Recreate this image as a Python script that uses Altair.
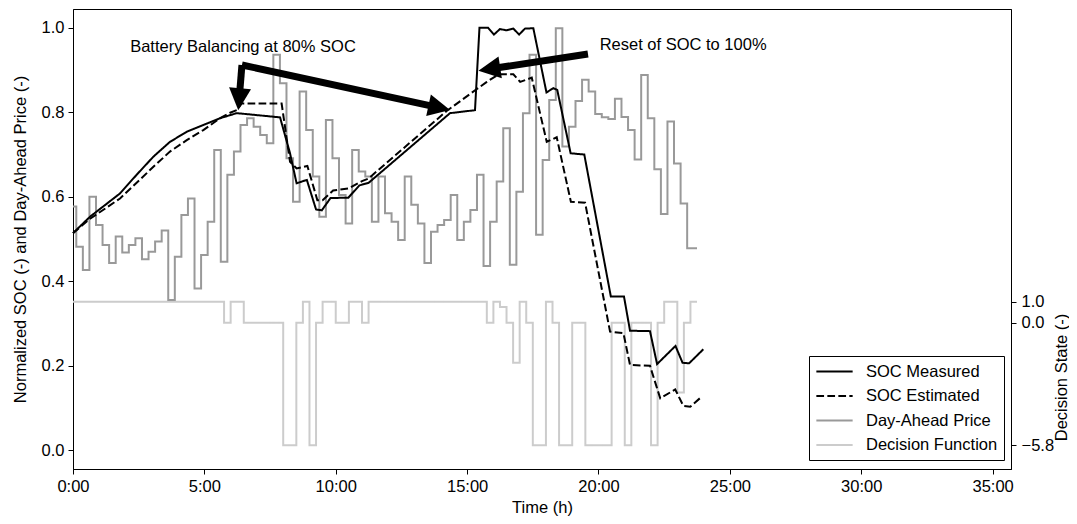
import math
import altair as alt
import pandas as pd

# ---------------- data ----------------
STEP_H = 0.25  # 15-minute resolution

price_values = [
    0.577, 0.482, 0.427, 0.600, 0.533, 0.486, 0.443, 0.506, 0.468, 0.486,
    0.502, 0.452, 0.470, 0.494, 0.520, 0.356, 0.458, 0.557, 0.596, 0.383,
    0.462, 0.541, 0.711, 0.446, 0.652, 0.707, 0.770, 0.786, 0.766, 0.746,
    0.727, 0.936, 0.869, 0.691, 0.588, 0.849, 0.758, 0.648, 0.553, 0.782,
    0.691, 0.604, 0.537, 0.711, 0.660, 0.648, 0.541, 0.648, 0.561, 0.541,
    0.498, 0.648, 0.581, 0.537, 0.443, 0.517, 0.533, 0.545, 0.604, 0.498,
    0.541, 0.569, 0.652, 0.436, 0.541, 0.636, 0.762, 0.439, 0.612, 0.798,
    0.936, 0.510, 0.687, 0.829, 0.999, 0.719, 0.766, 0.827, 0.877, 0.849,
    0.796, 0.788, 0.784, 0.832, 0.789, 0.758, 0.688, 0.888, 0.786, 0.665,
    0.559, 0.778, 0.679, 0.584, 0.478, 0.478,
]

decision_values = (
    [1.0] * 23 + [0.0] + [1.0] * 2 + [0.0] * 6 + [-5.8] * 2 + [0.0] + [1.0]
    + [-5.8] + [0.0] + [1.0] * 2 + [0.0] * 2 + [1.0] * 2 + [0.0] + [1.0] * 18
    + [0.0] + [1.0] + [0.75] + [0.0] + [-1.9] + [1.0] + [0.0] + [-5.8] * 2
    + [1.0] + [0.0] + [-5.8] * 2 + [0.0] * 2 + [-5.8] * 4 + [0.0] * 2 + [-5.8]
    + [0.0] * 3 + [-5.8] + [0.0] + [1.0] * 2 + [-3.3] + [0.0] + [1.0] * 2
)

soc_meas_t = [0, 0.65, 1.79, 2.42, 3.06, 3.69, 4.33, 4.96, 5.6, 6.23, 7.88, 8.26,
              8.51, 8.9, 9.25, 9.47, 9.8, 10.48, 10.9, 11.25, 14.35, 15.3, 15.47,
              15.8, 16.02, 16.25, 16.5, 16.76, 16.98, 17.2, 17.52, 18.02, 18.28,
              18.43, 18.94, 19.46, 20.47, 20.97, 21.2, 21.96, 22.23, 22.93, 23.2,
              23.45, 23.99]
soc_meas_v = [0.514, 0.553, 0.608, 0.652, 0.695, 0.730, 0.754, 0.770, 0.786, 0.798,
              0.788, 0.703, 0.632, 0.640, 0.570, 0.568, 0.597, 0.598, 0.627, 0.633,
              0.798, 0.805, 1.0, 1.0, 0.984, 0.997, 0.994, 0.998, 0.984, 0.998,
              0.999, 0.847, 0.857, 0.853, 0.703, 0.700, 0.364, 0.364, 0.283, 0.282,
              0.204, 0.247, 0.207, 0.206, 0.239]

soc_est_t = [0, 0.65, 1.79, 3.06, 3.69, 4.33, 4.96, 5.6, 5.98, 6.23, 6.42, 7.94,
             8.26, 8.51, 8.92, 9.3, 9.5, 9.9, 10.5, 11.0, 11.24, 14.22, 15.37,
             15.75, 16.2, 16.76, 17.02, 17.46, 18.03, 18.41, 18.95, 19.49, 20.44,
             20.95, 21.2, 21.96, 22.35, 22.92, 23.23, 23.49, 23.93]
soc_est_v = [0.514, 0.548, 0.596, 0.671, 0.707, 0.734, 0.758, 0.786, 0.799, 0.805,
             0.821, 0.821, 0.683, 0.667, 0.673, 0.592, 0.592, 0.615, 0.620, 0.637,
             0.643, 0.803, 0.855, 0.872, 0.890, 0.890, 0.872, 0.882, 0.730, 0.741,
             0.588, 0.586, 0.281, 0.277, 0.202, 0.200, 0.123, 0.144, 0.105, 0.103,
             0.127]

series_names = ["SOC Measured", "SOC Estimated", "Day-Ahead Price", "Decision Function"]
series_colors = ["#000000", "#000000", "#999999", "#cccccc"]
series_dashes = [[1, 0], [7.7, 3.3], [1, 0], [1, 0]]

x_ticks = [0, 5, 10, 15, 20, 25, 30, 35]
y_ticks = [0.0, 0.2, 0.4, 0.6, 0.8, 1.0]
decision_ticks = [1.0, 0.0, -5.8]

ann_texts = ["Battery Balancing at 80% SOC", "Reset of SOC to 100%"]
ann_text_t = [6.47, 23.22]
ann_text_v = [0.9545, 0.959]
arrow_start_t = [6.43, 6.43, 19.60]
arrow_start_v = [0.912, 0.912, 0.938]
arrow_tip_t = [6.29, 14.35, 15.43]
arrow_tip_v = [0.805, 0.8055, 0.8985]

# ---------------- layout ----------------
PLOT_W, PLOT_H = 938, 460
X_DOMAIN = [0, 35.7]
Y_DOMAIN = [-0.0443, 1.0445]
D_DOMAIN = [-6.93, 14.87]
FONT = "Liberation Sans"
FS = 16.5

PX_H = PLOT_W / (X_DOMAIN[1] - X_DOMAIN[0])
PX_V = PLOT_H / (Y_DOMAIN[1] - Y_DOMAIN[0])
HEAD_INSET = 16

# ---------------- tables ----------------
times = [i * STEP_H for i in range(len(price_values))]
price_df = pd.DataFrame({"t": times, "v": price_values, "series": "Day-Ahead Price"})
dec_df = pd.DataFrame({"t": times, "v": decision_values, "series": "Decision Function"})
soc_df = pd.concat([
    pd.DataFrame({"t": soc_meas_t, "v": soc_meas_v, "series": "SOC Measured"}),
    pd.DataFrame({"t": soc_est_t, "v": soc_est_v, "series": "SOC Estimated"}),
], ignore_index=True)
soc_df["ord"] = range(len(soc_df))

shaft_rows, head_rows = [], []
for i, (ts, vs, tt, vt) in enumerate(zip(arrow_start_t, arrow_start_v, arrow_tip_t, arrow_tip_v)):
    dx = (tt - ts) * PX_H
    dy = -(vt - vs) * PX_V
    L = math.hypot(dx, dy)
    ux, uy = dx / L, dy / L
    te = tt - HEAD_INSET * ux / PX_H
    ve = vt + HEAD_INSET * uy / PX_V
    shaft_rows += [{"arrow": i, "ord": 0, "t": ts, "v": vs},
                   {"arrow": i, "ord": 1, "t": te, "v": ve}]
    head_rows.append({"t": tt, "v": vt, "angle": math.degrees(math.atan2(ux, -uy)) % 360})
shaft_df = pd.DataFrame(shaft_rows)
head_df = pd.DataFrame(head_rows)
text_df = pd.DataFrame({"t": ann_text_t, "v": ann_text_v, "label": ann_texts})

# ---------------- encodings ----------------
XSCALE = alt.Scale(domain=X_DOMAIN, nice=False, zero=False)
YSCALE = alt.Scale(domain=Y_DOMAIN, nice=False, zero=False)
DSCALE = alt.Scale(domain=D_DOMAIN, nice=False, zero=False)

XAXIS = alt.Axis(values=x_ticks, labelExpr="datum.value + ':00'", title="Time (h)",
                 labelFlush=False, labelOverlap=False, tickSize=5, labelPadding=4,
                 titleY=38, titleBaseline="middle", grid=False)
YAXIS = alt.Axis(orient="left", values=y_ticks, format=".1f",
                 title="Normalized SOC (-) and Day-Ahead Price (-)",
                 tickSize=5, labelPadding=4, labelOverlap=False, grid=False,
                 titleAngle=270, titleAlign="center", titleBaseline="middle",
                 titleX=-53, titleY=230)
DAXIS = alt.Axis(orient="right", values=decision_ticks, format=".1f",
                 title="Decision State (-)", tickSize=5, labelPadding=5,
                 labelOverlap=False, grid=False, titleAngle=270, titleAlign="center",
                 titleBaseline="middle", titleX=50, titleY=368)

LEG = alt.Legend(title=None, orient="none", legendX=736, legendY=347,
                 fillColor="white", strokeColor="black", padding=6, cornerRadius=0,
                 labelFont=FONT, labelFontSize=FS, labelColor="black",
                 symbolType="M-2.2,0H2.2", symbolSize=272, symbolStrokeWidth=2,
                 symbolOffset=10, rowPadding=6.5, labelOffset=22)

color = alt.Color("series:N", scale=alt.Scale(domain=series_names, range=series_colors), legend=LEG)
dash = alt.StrokeDash("series:N", scale=alt.Scale(domain=series_names, range=series_dashes), legend=LEG)

x_enc = alt.X("t:Q", scale=XSCALE, axis=XAXIS)
y_enc = alt.Y("v:Q", scale=YSCALE, axis=YAXIS)

price = alt.Chart(price_df).mark_line(interpolate="step", strokeWidth=2).encode(
    x=x_enc, y=y_enc, color=color, strokeDash=dash)

soc = alt.Chart(soc_df).mark_line(strokeWidth=2).encode(
    x=x_enc, y=y_enc, color=color, strokeDash=dash, order="ord:Q")

shafts = alt.Chart(shaft_df).mark_line(color="black", strokeWidth=7, strokeCap="butt").encode(
    x=x_enc, y=y_enc, detail="arrow:N", order="ord:Q")

heads = alt.Chart(head_df).mark_point(
    shape="M0,0L-1.1,2.2L1.1,2.2Z", size=400, filled=True, color="black", opacity=1,
    strokeWidth=0).encode(x=x_enc, y=y_enc, angle=alt.Angle("angle:Q", scale=None))

texts = alt.Chart(text_df).mark_text(font=FONT, fontSize=FS, color="black",
                                     align="center", baseline="middle").encode(
    x=x_enc, y=y_enc, text="label:N")

left = alt.layer(price, soc, shafts, heads, texts)

decision = alt.Chart(dec_df).mark_line(interpolate="step-after", strokeWidth=2).encode(
    x=x_enc, y=alt.Y("v:Q", scale=DSCALE, axis=DAXIS), color=color, strokeDash=dash)

chart = alt.layer(decision, left).resolve_scale(y="independent").properties(
    width=PLOT_W, height=PLOT_H,
    padding={"left": 65, "top": 1, "right": 58, "bottom": 47},
    autosize=alt.AutoSizeParams(type="none"),
).configure_view(stroke="black", strokeWidth=1).configure_axis(
    labelFont=FONT, titleFont=FONT, labelFontSize=FS, titleFontSize=FS,
    labelColor="black", titleColor="black", tickColor="black", domainColor="black",
    titleFontWeight="normal", domainWidth=1, tickWidth=1,
).configure_legend(labelFont=FONT)

chart.save("out.html", embed_options={"renderer": "svg", "actions": False})
